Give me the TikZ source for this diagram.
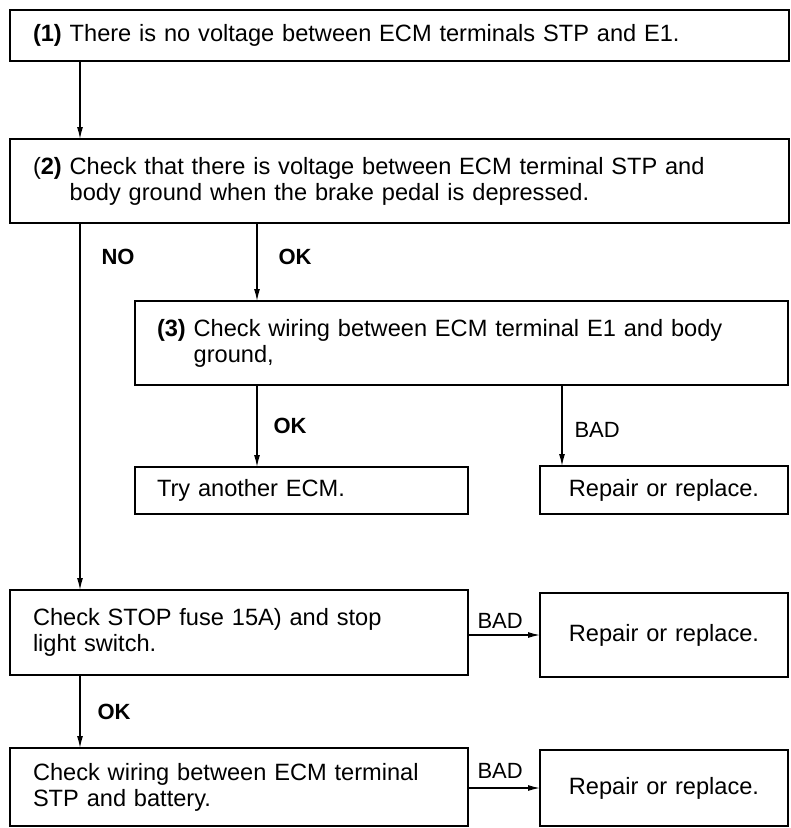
\documentclass[tikz,border=0pt]{standalone}
\usepackage{fontspec}
\setmainfont{Liberation Sans}
\usetikzlibrary{arrows.meta}

\tikzset{
  flowbox/.style={draw, line width=1.8pt, inner sep=0pt, outer sep=0pt,
    anchor=north west, align=left, font=\fontsize{23.6}{26}\selectfont},
  fixbox/.style={flowbox, align=center},
  flowarrow/.style={line width=1.3pt, -{Latex[length=12pt,width=6pt]}},
  boldlabel/.style={anchor=west, font=\fontsize{22}{24}\selectfont\bfseries},
  badlabel/.style={anchor=west, font=\fontsize{22}{24}\selectfont}
}

\begin{document}
\begin{tikzpicture}[x=1pt,y=-1pt]
  \useasboundingbox (0,0) rectangle (791,828);

  % Boxes
  \node[flowbox, inner xsep=23pt, text width=733pt, minimum height=51pt] (box1) at (10,10)
    {\textbf{(1)} There is no voltage between ECM terminals STP and E1.};
  \node[flowbox, inner xsep=23pt, text width=733pt, minimum height=84pt,
    font=\fontsize{23.6}{26}\selectfont] (box2) at (10,139)
    {(\textbf{2)} Check that there is voltage between ECM terminal STP and\\
     \hphantom{(\textbf{2)} }body ground when the brake pedal is depressed.};
  \node[flowbox, inner xsep=22pt, text width=609pt, minimum height=84pt] (box3) at (135,301)
    {\textbf{(3)} Check wiring between ECM terminal E1 and body\\
     \hphantom{\textbf{(3)} }ground,};
  \node[flowbox, inner xsep=22pt, text width=289pt, minimum height=47pt] (try) at (135,467)
    {Try another ECM.};
  \node[fixbox, text width=248pt, minimum height=48pt] (rep1) at (540,466)
    {Repair or replace.};
  \node[flowbox, inner xsep=23pt, text width=412pt, minimum height=85pt] (box4) at (10,590)
    {Check STOP fuse 15A) and stop\\light switch.};
  \node[fixbox, text width=248pt, minimum height=84pt] (rep2) at (540,593)
    {Repair or replace.};
  \node[flowbox, inner xsep=23pt, text width=412pt, minimum height=78pt] (box5) at (10,748)
    {Check wiring between ECM terminal\\STP and battery.};
  \node[fixbox, text width=248pt, minimum height=76pt] (rep3) at (540,750)
    {Repair or replace.};

  % Connectors
  \draw[flowarrow] ([xshift=70pt]box1.south west) -- ([xshift=70pt]box2.north west);
  \draw[flowarrow] ([xshift=70pt]box2.south west) -- ([xshift=70pt]box4.north west);
  \draw[flowarrow] ([xshift=247pt]box2.south west) -- ([xshift=122pt]box3.north west);
  \draw[flowarrow] ([xshift=122pt]box3.south west) -- ([xshift=122pt]try.north west);
  \draw[flowarrow] ([xshift=427pt]box3.south west) -- ([xshift=22pt]rep1.north west);
  \draw[flowarrow] (rep2.west -| box4.east) -- (rep2.west);
  \draw[flowarrow] ([xshift=70pt]box4.south west) -- ([xshift=70pt]box5.north west);
  \draw[flowarrow] (rep3.west -| box5.east) -- (rep3.west);

  % Labels
  \node[boldlabel] (no1) at (98,257) {NO};
  \node[boldlabel] (ok1) at (275,257) {OK};
  \node[boldlabel] (ok2) at (270,426) {OK};
  \node[badlabel] (bad1) at (571,430) {BAD};
  \node[badlabel] (bad2) at (474,621) {BAD};
  \node[boldlabel] (ok3) at (94,712) {OK};
  \node[badlabel] (bad3) at (474,771) {BAD};
\end{tikzpicture}
\end{document}
